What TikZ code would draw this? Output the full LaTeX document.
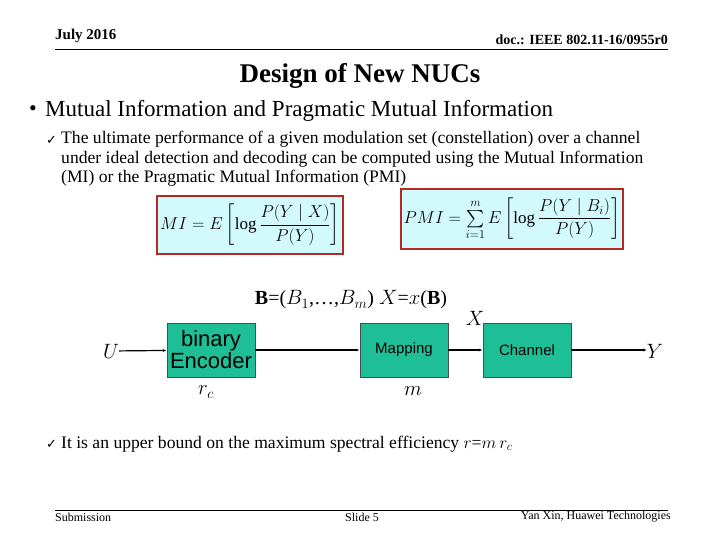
\documentclass[tikz,border=0pt]{standalone}
\usepackage{amsmath}
\usepackage{fontspec}
\setmainfont{Liberation Serif}
\newfontfamily\arial{Liberation Sans}
\newfontfamily\djv{DejaVu Sans}
\usetikzlibrary{arrows.meta}
\definecolor{boxg}{RGB}{30,190,150}
\definecolor{eqfill}{RGB}{210,250,252}
\definecolor{eqbord}{RGB}{180,40,40}
\begin{document}
\begin{tikzpicture}[x=1pt,y=-1pt,
  blk/.style={draw=black!70,fill=boxg,minimum width=88pt,minimum height=54pt,inner sep=0pt,font=\arial},
  eq/.style={draw=eqbord,line width=2pt,fill=eqfill,inner sep=3pt,font=\fontsize{17}{20}\selectfont},
  conn/.style={line width=1.2pt,-{Latex[length=4pt,width=3pt]}},
  txt/.style={inner sep=0pt}]
\useasboundingbox (0,0) rectangle (720,540);
\node[txt,anchor=west,font=\bfseries\fontsize{15}{18}\selectfont] (date) at (55,36) {July 2016};
\node[txt,anchor=east,font=\bfseries\fontsize{14}{17}\selectfont] (doc) at (668,40) {doc.: IEEE 802.11-16/0955r0};
\draw[line width=0.8pt] (55,49) -- (668,49);
\node[txt,font=\bfseries\fontsize{27}{30}\selectfont] (title) at (360,76) {Design of New NUCs};
\node[txt,font=\fontsize{22}{26}\selectfont] (bul) at (33,111) {\textbullet};
\node[txt,anchor=west,font=\fontsize{23}{26}\selectfont] (head) at (45,111) {Mutual Information and Pragmatic Mutual Information};
\node[txt,anchor=west] (ck1) at (46,140) {\djv\fontsize{13}{14}\selectfont ✓};
\node[txt,anchor=north west,align=left,font=\fontsize{17.6}{19.5}\selectfont] (para) at (61,131) {The ultimate performance of a given modulation set (constellation) over a channel\\under ideal detection and decoding can be computed using the Mutual Information\\(MI) or the Pragmatic Mutual Information (PMI)};
\node[eq,minimum width=170pt,minimum height=58pt] (mi) at (250,225) {$MI=E\left[\log\dfrac{P(Y\mid X)}{P(Y)}\right]$};
\node[eq,minimum width=200pt,minimum height=59pt] (pmi) at (512,219) {$PMI=\sum\limits_{i=1}^{m}E\left[\log\dfrac{P(Y\mid B_i)}{P(Y)}\right]$};
\node[txt,font=\fontsize{22}{24}\selectfont] (U) at (111,351) {$U$};
\node[blk,font=\arial\fontsize{22}{24}\selectfont,align=center] (enc) at (211,350) {binary\\[-2pt]Encoder};
\node[blk,font=\arial\fontsize{15}{18}\selectfont] (map) at (404,350) {Mapping};
\node[blk,font=\arial\fontsize{15}{18}\selectfont] (ch) at (527,350) {Channel};
\node[txt,font=\fontsize{22}{24}\selectfont] (Y) at (655,351) {$Y$};
\coordinate (yend) at (647,350);
\draw[conn] (U) -- (enc);
\draw[conn] (enc) -- (map);
\draw[conn] (map) -- (ch);
\draw[conn] (ch) -- (yend);
\node[txt,font=\fontsize{20}{24}\selectfont] (blab) at (351,300) {\textbf{B}=($B_1$,\ldots,$B_m$) $X$=$x$(\textbf{B})};
\node[txt,font=\fontsize{22}{24}\selectfont] (xl) at (475,318) {$X$};
\node[txt,font=\fontsize{20}{24}\selectfont] (rc) at (206,392) {$r_c$};
\node[txt,font=\fontsize{20}{24}\selectfont] (ml) at (413,391) {$m$};
\node[txt,anchor=west] (ck2) at (46,444) {\djv\fontsize{13}{14}\selectfont ✓};
\node[txt,anchor=west,font=\fontsize{17.6}{19}\selectfont] (ub) at (61,444) {It is an upper bound on the maximum spectral efficiency $r$=$m\,r_c$};
\draw[line width=0.8pt] (55,510) -- (668,510);
\node[txt,anchor=west,font=\fontsize{12}{14}\selectfont] (sub) at (55,517) {Submission};
\node[txt,font=\fontsize{12}{14}\selectfont] (sl) at (362,517) {Slide 5};
\node[txt,anchor=east,font=\fontsize{12}{14}\selectfont] (au) at (671,517) {Yan Xin, Huawei Technologies};
\end{tikzpicture}
\end{document}
